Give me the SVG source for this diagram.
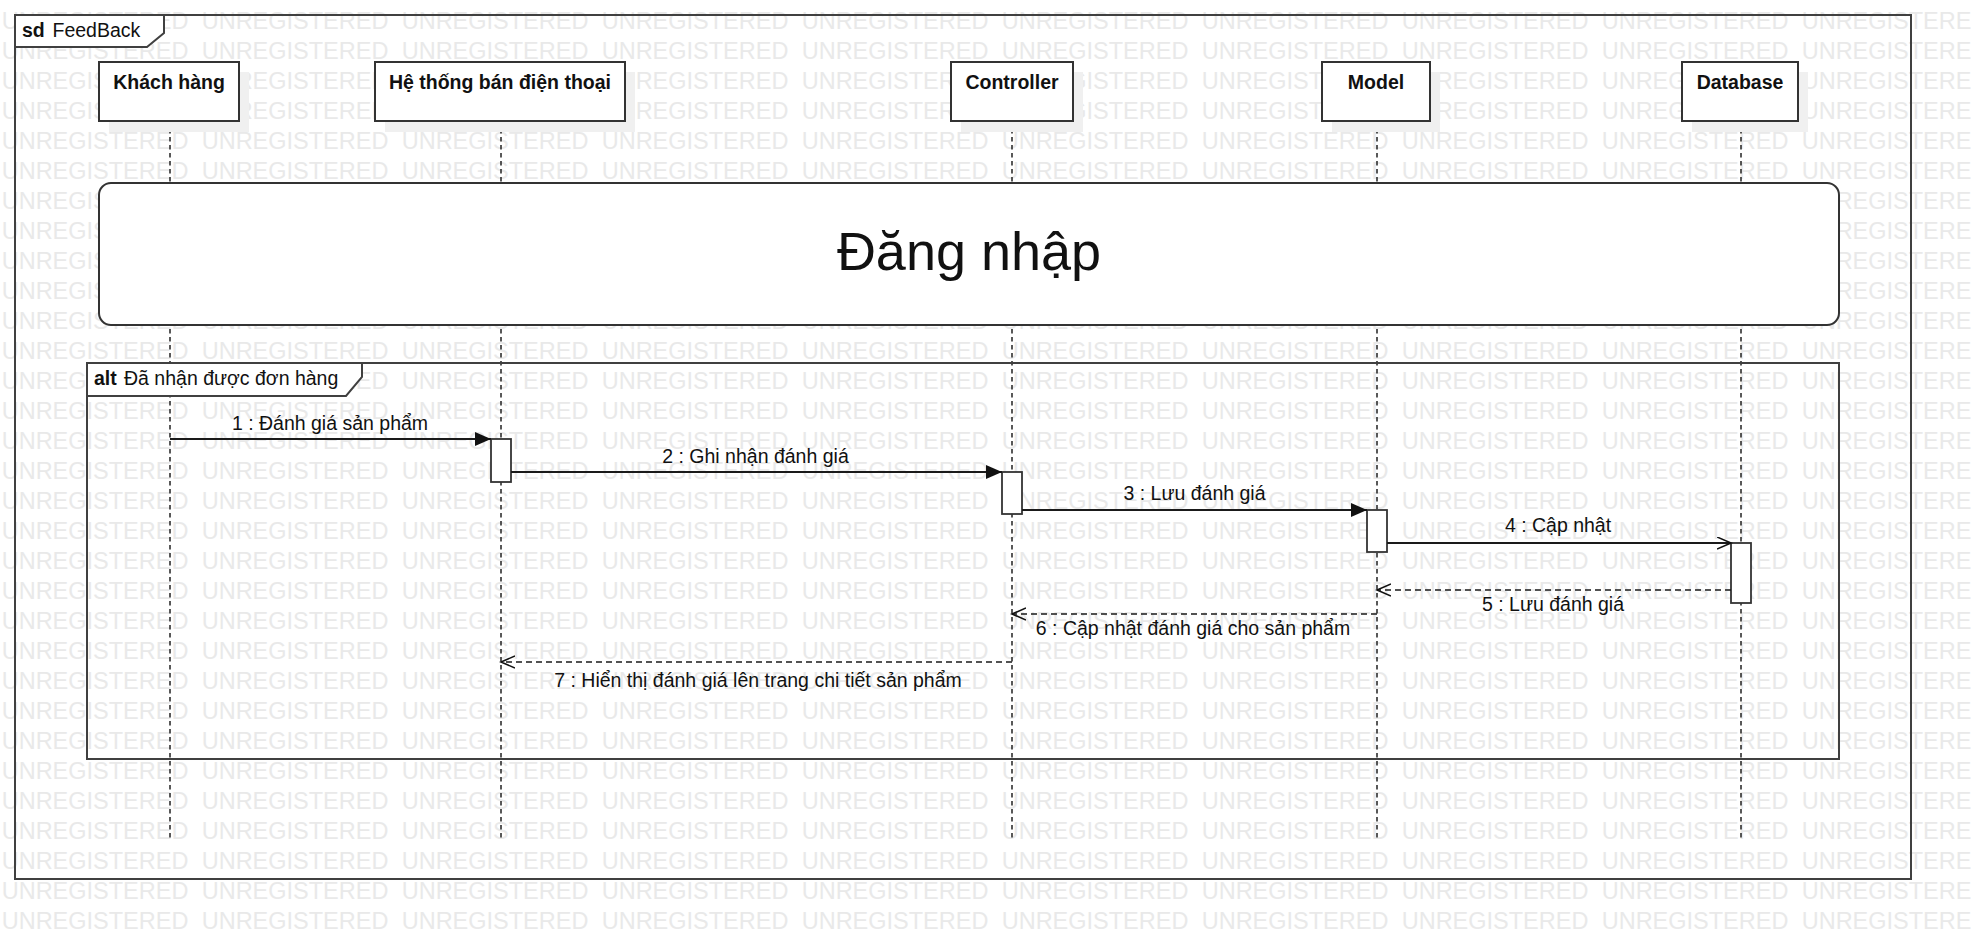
<svg xmlns="http://www.w3.org/2000/svg" xmlns:xlink="http://www.w3.org/1999/xlink" width="1971" height="939" viewBox="0 0 1971 939">
<style>
text{font-family:"Liberation Sans",Arial,sans-serif;fill:#111}
.wm{font-size:23.5px;fill:#e9e9e9}
.frame{fill:none;stroke:#404040;stroke-width:2}
.tab{fill:#fff;stroke:#404040;stroke-width:2}
.box{fill:#fff;stroke:#333;stroke-width:2}
.shadow{fill:#f0f0f0}
.life{stroke:#222;stroke-width:1.5;stroke-dasharray:4.5 3.5;fill:none}
.act{fill:#fff;stroke:#333;stroke-width:1.8}
.msg{stroke:#1a1a1a;stroke-width:1.8;fill:none}
.ret{stroke:#1a1a1a;stroke-width:1.5;fill:none;stroke-dasharray:6 4}
.lbl{font-size:19.5px;text-anchor:middle}
.node{font-size:19.5px;font-weight:bold;text-anchor:middle}
.b{font-weight:bold}
</style>
<defs>
<marker id="filled" markerUnits="userSpaceOnUse" markerWidth="17" markerHeight="15" refX="16" refY="7.5" orient="auto">
<path d="M0,0.5 L16,7.5 L0,14.5 z" fill="#111"/>
</marker>
<marker id="open" markerUnits="userSpaceOnUse" markerWidth="16" markerHeight="14" refX="14" refY="6.5" orient="auto">
<path d="M0,0.5 L14,6.5 L0,12.5" fill="none" stroke="#111" stroke-width="1.6"/>
</marker>
<text id="wm" class="wm"><tspan x="1.7">UNREGISTERED</tspan><tspan x="201.7">UNREGISTERED</tspan><tspan x="401.7">UNREGISTERED</tspan><tspan x="601.7">UNREGISTERED</tspan><tspan x="801.7">UNREGISTERED</tspan><tspan x="1001.7">UNREGISTERED</tspan><tspan x="1201.7">UNREGISTERED</tspan><tspan x="1401.7">UNREGISTERED</tspan><tspan x="1601.7">UNREGISTERED</tspan><tspan x="1801.7">UNREGISTERED</tspan></text>
</defs>
<rect width="1971" height="939" fill="#fff"/>
<g id="watermark">
<use xlink:href="#wm" y="28.6"/><use xlink:href="#wm" y="58.6"/><use xlink:href="#wm" y="88.6"/><use xlink:href="#wm" y="118.6"/><use xlink:href="#wm" y="148.6"/><use xlink:href="#wm" y="178.6"/><use xlink:href="#wm" y="208.6"/><use xlink:href="#wm" y="238.6"/><use xlink:href="#wm" y="268.6"/><use xlink:href="#wm" y="298.6"/><use xlink:href="#wm" y="328.6"/><use xlink:href="#wm" y="358.6"/><use xlink:href="#wm" y="388.6"/><use xlink:href="#wm" y="418.6"/><use xlink:href="#wm" y="448.6"/><use xlink:href="#wm" y="478.6"/><use xlink:href="#wm" y="508.6"/><use xlink:href="#wm" y="538.6"/><use xlink:href="#wm" y="568.6"/><use xlink:href="#wm" y="598.6"/><use xlink:href="#wm" y="628.6"/><use xlink:href="#wm" y="658.6"/><use xlink:href="#wm" y="688.6"/><use xlink:href="#wm" y="718.6"/><use xlink:href="#wm" y="748.6"/><use xlink:href="#wm" y="778.6"/><use xlink:href="#wm" y="808.6"/><use xlink:href="#wm" y="838.6"/><use xlink:href="#wm" y="868.6"/><use xlink:href="#wm" y="898.6"/><use xlink:href="#wm" y="928.6"/>
</g>
<g id="frame-sd">
<rect class="frame" x="15" y="15" width="1896" height="864"/>
<path class="tab" d="M15,15 L164,15 L164,33 L147,47 L15,47 Z"/>
<text x="22" y="36.5" font-size="19.5" class="b">sd</text>
<text x="52.5" y="36.5" font-size="19.5">FeedBack</text>
</g>
<g id="lifelines">
<line class="life" x1="170" y1="121" x2="170" y2="838"/>
<line class="life" x1="501" y1="121" x2="501" y2="838"/>
<line class="life" x1="1012" y1="121" x2="1012" y2="838"/>
<line class="life" x1="1377" y1="121" x2="1377" y2="838"/>
<line class="life" x1="1741" y1="121" x2="1741" y2="838"/>
</g>
<g id="node-khachhang">
<rect class="shadow" x="109" y="72" width="140" height="60"/>
<rect class="box" x="99" y="62" width="140" height="59"/>
<text class="node" x="169" y="88.5">Khách hàng</text>
</g>
<g id="node-hethong">
<rect class="shadow" x="385" y="72" width="250" height="60"/>
<rect class="box" x="375" y="62" width="250" height="59"/>
<text class="node" x="500" y="88.5">Hệ thống bán điện thoại</text>
</g>
<g id="node-controller">
<rect class="shadow" x="961" y="72" width="122" height="60"/>
<rect class="box" x="951" y="62" width="122" height="59"/>
<text class="node" x="1012" y="88.5">Controller</text>
</g>
<g id="node-model">
<rect class="shadow" x="1332" y="72" width="108" height="60"/>
<rect class="box" x="1322" y="62" width="108" height="59"/>
<text class="node" x="1376" y="88.5">Model</text>
</g>
<g id="node-database">
<rect class="shadow" x="1692" y="72" width="116" height="60"/>
<rect class="box" x="1682" y="62" width="116" height="59"/>
<text class="node" x="1740" y="88.5">Database</text>
</g>
<g id="ref-dangnhap">
<rect x="99" y="183" width="1740" height="142" rx="12" ry="12" fill="#fff" stroke="#333" stroke-width="2"/>
<text x="969" y="270" font-size="54" text-anchor="middle">Đăng nhập</text>
</g>
<g id="frame-alt">
<rect class="frame" x="87" y="363" width="1752" height="396"/>
<path class="tab" d="M87,363 L362,363 L362,377 L346,396 L87,396 Z"/>
<text x="94" y="385" font-size="19.5" class="b">alt</text>
<text x="124" y="385" font-size="19.5">Đã nhận được đơn hàng</text>
</g>
<g id="activations">
<rect class="act" x="491" y="439" width="20" height="43"/>
<rect class="act" x="1002" y="472" width="20" height="42"/>
<rect class="act" x="1367" y="510" width="20" height="42"/>
<rect class="act" x="1731" y="543" width="20" height="60"/>
</g>
<g id="connectors">
<line class="msg" x1="170" y1="439" x2="491" y2="439" marker-end="url(#filled)"/>
<line class="msg" x1="511" y1="472" x2="1002" y2="472" marker-end="url(#filled)"/>
<line class="msg" x1="1022" y1="510" x2="1367" y2="510" marker-end="url(#filled)"/>
<line class="msg" x1="1387" y1="543" x2="1731" y2="543" marker-end="url(#open)"/>
<line class="ret" x1="1731" y1="590" x2="1377" y2="590" marker-end="url(#open)"/>
<line class="ret" x1="1377" y1="614" x2="1012" y2="614" marker-end="url(#open)"/>
<line class="ret" x1="1012" y1="662" x2="501" y2="662" marker-end="url(#open)"/>
<text class="lbl" x="330" y="430">1 : Đánh giá sản phẩm</text>
<text class="lbl" x="755.5" y="462.5">2 : Ghi nhận đánh giá</text>
<text class="lbl" x="1194.5" y="499.5">3 : Lưu đánh giá</text>
<text class="lbl" x="1558" y="532">4 : Cập nhật</text>
<text class="lbl" x="1553" y="611">5 : Lưu đánh giá</text>
<text class="lbl" x="1193" y="634.5">6 : Cập nhật đánh giá cho sản phẩm</text>
<text class="lbl" x="758" y="686.5">7 : Hiển thị đánh giá lên trang chi tiết sản phẩm</text>
</g>
</svg>
